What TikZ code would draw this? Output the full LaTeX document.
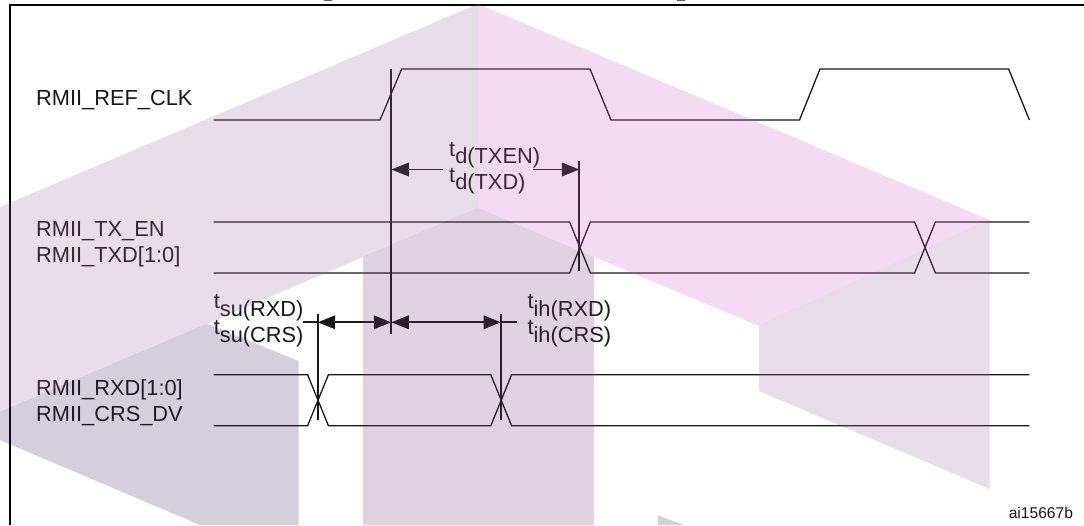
\documentclass[tikz,border=0pt]{standalone}
\usepackage{fontspec}
\setmainfont{Liberation Sans}
\usetikzlibrary{arrows.meta}
\definecolor{ink}{HTML}{1A1718}
\tikzset{
  x=1pt,y=-1pt,
  wave/.style={draw=ink,line width=1.3pt,line join=miter},
  cursor/.style={draw=ink,line width=1.8pt},
  dim/.style={draw=ink,line width=1.8pt,{Triangle[length=17.5pt,width=13.5pt]}-{Triangle[length=17.5pt,width=13.5pt]}},
  dimleft/.style={draw=ink,line width=1.8pt,{Triangle[length=17.5pt,width=13.5pt]}-},
  dimright/.style={draw=ink,line width=1.8pt,-{Triangle[length=17.5pt,width=13.5pt]}},
  sig/.style={anchor=base west,inner sep=0pt,font=\fontsize{21.8}{26}\selectfont,text=ink},
  ref/.style={anchor=base west,inner sep=0pt,font=\fontsize{15.6}{18}\selectfont,text=ink},
  wm/.style={fill opacity=.22,draw=none},
}
\newcommand{\tlabel}[2]{t\raisebox{-7.5pt}{#1(#2)}}
\begin{document}
\begin{tikzpicture}
\useasboundingbox (0,0) rectangle (1084,525);
\fill[white] (0,0) rectangle (1084,525);
% clipped title descenders
\fill[ink!70] (324,0) rectangle (332,1.2);
\fill[ink!70] (677,0) rectangle (685,1.2);
% frame
\draw[black,line width=2pt] (10,525) -- (10,5) -- (1084,5);
% named ends
\coordinate (c1top) at (391.3,69);
\coordinate (c1bot) at (391.3,333.7);
\coordinate (c2top) at (579.3,161);
\coordinate (c2bot) at (579.3,271);
\coordinate (c3top) at (317.7,314.3);
\coordinate (c3bot) at (317.7,420.3);
\coordinate (c4top) at (501,314.3);
\coordinate (c4bot) at (501,420.3);
\coordinate (dtl) at (391.3,169.5);
\coordinate (dtle) at (442.5,169.5);
\coordinate (dtre) at (532.7,169.5);
\coordinate (dtr) at (579.3,169.5);
\coordinate (sul) at (317.7,322.3);
\coordinate (sum) at (391.3,322.3);
\coordinate (ihr) at (501,322.3);
\coordinate (sue) at (302.7,322.3);
\coordinate (ihe) at (516.8,322.3);
% waveforms
\draw[wave] (213.6,120) -- (380,120) -- (401.7,69) -- (590,69) -- (611,120) -- (799.5,120) -- (820,69) -- (1008.6,69) -- (1029.4,120);
\draw[wave] (213.6,222) -- (569.6,222) -- (590.4,273) -- (914.6,273) -- (935.4,222) -- (1029.4,222);
\draw[wave] (213.6,273) -- (569.6,273) -- (590.4,222) -- (914.6,222) -- (935.4,273) -- (1029.4,273);
\draw[wave] (213.6,374.7) -- (307.6,374.7) -- (328.4,425.7) -- (490.8,425.7) -- (511.6,374.7) -- (1029.4,374.7);
\draw[wave] (213.6,425.7) -- (307.6,425.7) -- (328.4,374.7) -- (490.8,374.7) -- (511.6,425.7) -- (1029.4,425.7);
% cursors
\draw[cursor] (c1top) -- (c1bot);
\draw[cursor] (c2top) -- (c2bot);
\draw[cursor] (c3top) -- (c3bot);
\draw[cursor] (c4top) -- (c4bot);
% dimension arrows
\draw[dimleft] (dtl) -- (dtle);
\draw[dimright] (dtre) -- (dtr);
\draw[dim] (sul) -- (sum);
\draw[dim] (sum) -- (ihr);
\draw[cursor] (sue) -- (sul);
\draw[cursor] (ihr) -- (ihe);
% labels
\node[sig] (lclk) at (36,105) {RMII\_REF\_CLK};
\node[sig] (ltxen) at (36,236.7) {RMII\_TX\_EN};
\node[sig] (ltxd) at (36,262.7) {RMII\_TXD[1:0]};
\node[sig] (lrxd) at (36,395.3) {RMII\_RXD[1:0]};
\node[sig] (lcrs) at (36,421.3) {RMII\_CRS\_DV};
\node[sig] (tdtxen) at (449,156.3) {\tlabel{d}{TXEN}};
\node[sig] (tdtxd) at (449,182.3) {\tlabel{d}{TXD}};
\node[sig] (tsurxd) at (213.6,308.5) {\tlabel{su}{RXD}};
\node[sig] (tsucrs) at (213.6,334.5) {\tlabel{su}{CRS}};
\node[sig] (tihrxd) at (527.3,308.5) {\tlabel{ih}{RXD}};
\node[sig] (tihcrs) at (527.3,334.5) {\tlabel{ih}{CRS}};
\node[ref] (airef) at (1008.6,518.7) {ai15667b};
% watermark logo
\definecolor{wpink}{rgb}{.795,.36,.795}
\definecolor{wmauve}{rgb}{.59,.41,.61}
\definecolor{wcol}{rgb}{.45,.205,.477}
\definecolor{wdark}{rgb}{.25,.136,.364}
\fill[wm,wmauve] (478,4) -- (478,208) -- (0,412) -- (0,207) -- cycle;
\fill[wm,wpink] (478,4) -- (989.5,220) -- (759,326) -- (478,208) -- cycle;
\fill[wm,wmauve] (989.5,220) -- (989.5,489) -- (759,391) -- (759,326) -- cycle;
\fill[wm,wcol] (363,257) -- (478,208) -- (594,257) -- (594,525) -- (363,525) -- cycle;
\fill[wm,wdark] (0,412) -- (207,323.7) -- (298.6,361) -- (298.6,525) -- (200,525) -- (0,440) -- cycle;
\fill[wm,wdark] (658,515.3) -- (683.7,525) -- (658,525) -- cycle;
\end{tikzpicture}
\end{document}
